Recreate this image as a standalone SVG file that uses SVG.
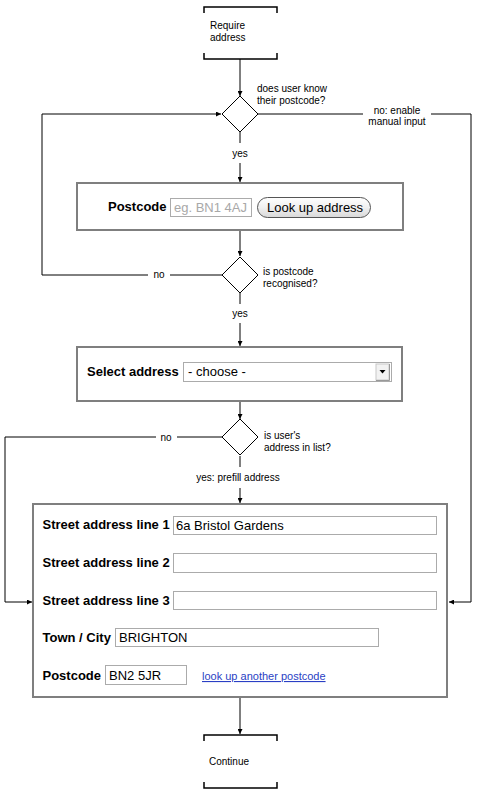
<svg xmlns="http://www.w3.org/2000/svg" width="477" height="792" viewBox="0 0 477 792">
<defs>
<marker id="arr" viewBox="0 0 10 10" refX="10" refY="5" markerWidth="5" markerHeight="5" orient="auto" markerUnits="userSpaceOnUse">
<path d="M0,0 L10,5 L0,10 z" fill="#000"/>
</marker>
<linearGradient id="btn" x1="0" y1="0" x2="0" y2="1">
<stop offset="0" stop-color="#ffffff"/>
<stop offset="0.5" stop-color="#f0f0f0"/>
<stop offset="1" stop-color="#d8d8d8"/>
</linearGradient>
</defs>
<style>
text{font-family:"Liberation Sans",Arial,Helvetica,sans-serif;fill:#000}
.s{font-size:10px}
.lbl{font-size:13px;font-weight:bold}
.val{font-size:13px}
.ph{font-size:13px;fill:#a8a8a8}
.link{font-size:11px;fill:#2a3fc4;text-decoration:underline}
.box{fill:#fff;stroke:#7f7f7f;stroke-width:2}
.fld{fill:#fff;stroke:#ababab;stroke-width:1}
.br{fill:none;stroke:#000;stroke-width:1.5}
.dia{fill:#fff;stroke:#000;stroke-width:1}
.c{fill:none;stroke:#000;stroke-width:1}
.m{text-anchor:middle}
</style>
<rect width="477" height="792" fill="#fff"/>

<g id="connectors">
<path class="c" d="M240,59 V96" marker-end="url(#arr)"/>
<path class="c" d="M240,132 V143"/>
<path class="c" d="M240,163 V182" marker-end="url(#arr)"/>
<path class="c" d="M240,231 V256" marker-end="url(#arr)"/>
<path class="c" d="M222,275 H170"/>
<path class="c" d="M148,275 H42 V114 H221" marker-end="url(#arr)"/>
<path class="c" d="M240,293 V304"/>
<path class="c" d="M240,323 V346" marker-end="url(#arr)"/>
<path class="c" d="M240,402 V419" marker-end="url(#arr)"/>
<path class="c" d="M222,437 H177"/>
<path class="c" d="M156,437 H5 V602 H32" marker-end="url(#arr)"/>
<path class="c" d="M240,456 V467"/>
<path class="c" d="M240,488 V503" marker-end="url(#arr)"/>
<path class="c" d="M258,114 H363"/>
<path class="c" d="M431,114 H471 V602 H449" marker-end="url(#arr)"/>
<path class="c" d="M240,698 V734" marker-end="url(#arr)"/>
<text class="s m" x="240" y="157">yes</text>
<text class="s m" x="159" y="278">no</text>
<text class="s m" x="240" y="317">yes</text>
<text class="s m" x="166" y="441">no</text>
<text class="s m" x="238" y="481">yes: prefill address</text>
<text class="s m" x="397" y="113.5">no: enable</text>
<text class="s m" x="397" y="125">manual input</text>
</g>

<g id="start">
<path class="br" d="M204,13 V7 H277 V13"/>
<path class="br" d="M204,53 V59 H277 V53"/>
<text class="s" x="210" y="29">Require</text>
<text class="s" x="210" y="41">address</text>
</g>

<g id="q-know-postcode">
<path class="dia" d="M240,96 L258,114 L240,132 L222,114 z"/>
<text class="s" x="257" y="92">does user know</text>
<text class="s" x="257" y="104">their postcode?</text>
</g>

<g id="postcode-form">
<rect class="box" x="77" y="183" width="326" height="47"/>
<text class="lbl" x="108" y="211">Postcode</text>
<rect class="fld" x="170.5" y="198.5" width="81" height="18"/>
<text class="ph" x="174" y="212">eg. BN1 4AJ</text>
<rect x="257.5" y="197.5" width="113" height="20" rx="10" fill="url(#btn)" stroke="#555" stroke-width="1"/>
<text class="val" x="267" y="212">Look up address</text>
</g>

<g id="q-recognised">
<path class="dia" d="M240,257 L258,275 L240,293 L222,275 z"/>
<text class="s" x="263" y="274.5">is postcode</text>
<text class="s" x="263" y="286.5">recognised?</text>
</g>

<g id="select-address">
<rect class="box" x="77" y="347" width="325" height="54"/>
<text class="lbl" x="87" y="376">Select address</text>
<rect class="fld" x="183.5" y="362.5" width="208" height="19"/>
<text class="val" x="188" y="376">- choose -</text>
<rect x="376" y="364" width="13" height="16" fill="#f2f2f2" stroke="#c8c8c8" stroke-width="1"/>
<path d="M389.5,364 V380.5 H376" fill="none" stroke="#999" stroke-width="1"/>
<path d="M379.5,370 H385.5 L382.5,373.5 z" fill="#000"/>
</g>

<g id="q-in-list">
<path class="dia" d="M240,419 L258,437 L240,455 L222,437 z"/>
<text class="s" x="264" y="439">is user's</text>
<text class="s" x="264" y="450.5">address in list?</text>
</g>

<g id="address-form">
<rect class="box" x="33" y="504" width="414" height="193"/>
<text class="lbl" x="42.5" y="529">Street address line 1</text>
<rect class="fld" x="173.5" y="516.5" width="263" height="18"/>
<text class="val" x="176" y="530">6a Bristol Gardens</text>
<text class="lbl" x="42.5" y="567">Street address line 2</text>
<rect class="fld" x="173.5" y="553.5" width="263" height="19"/>
<text class="lbl" x="42.5" y="604.5">Street address line 3</text>
<rect class="fld" x="173.5" y="591.5" width="263" height="18"/>
<text class="lbl" x="42.5" y="642">Town / City</text>
<rect class="fld" x="115.5" y="628.5" width="263" height="18"/>
<text class="val" x="119" y="642">BRIGHTON</text>
<text class="lbl" x="42.5" y="680">Postcode</text>
<rect class="fld" x="105.5" y="665.5" width="81" height="19"/>
<text class="val" x="109" y="680">BN2 5JR</text>
<text class="link" x="202" y="680">look up another postcode</text>
</g>

<g id="continue">
<path class="br" d="M204,741 V735 H277 V741"/>
<path class="br" d="M204,782 V788 H277 V782"/>
<text class="s" x="209" y="765">Continue</text>
</g>
</svg>
